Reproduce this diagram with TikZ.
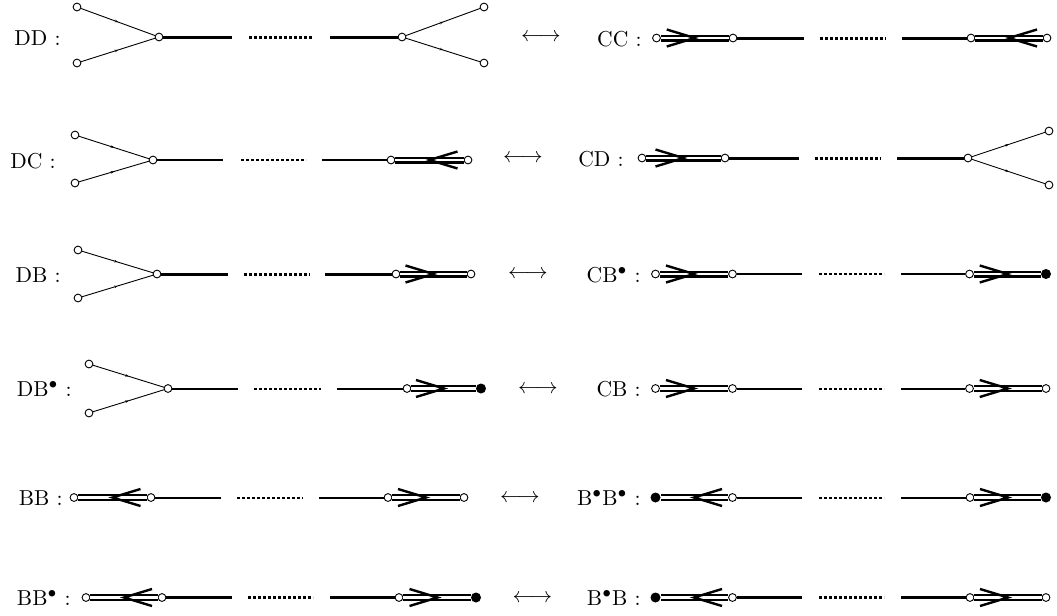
\documentclass[tikz,border=0pt]{standalone}
\usepackage{fix-cm}
\usetikzlibrary{calc,decorations.markings,arrows.meta}
\tikzset{
  ov/.style={circle, draw, fill=white, line width=0.45pt, inner sep=0pt, minimum size=3.9pt},
  fv/.style={circle, fill=black, inner sep=0pt, minimum size=5pt},
  thk/.style={line width=1.5pt},
  thn/.style={line width=1pt},
  dots/.style={dash pattern=on 1.3pt off 1.2pt},
  dbl/.style={double, double distance=1.2pt, line width=1.15pt},
  chv/.style={line width=1.2pt, miter limit=10},
  fork/.style={line width=0.45pt, postaction={decorate},
    decoration={markings, mark=at position 0.5 with {\arrow{Stealth[length=1.6pt,width=1.3pt]}}}},
  lbl/.style={anchor=base east, inner sep=0pt, font=\fontsize{10.8}{13}\selectfont},
  arr/.style={inner sep=0pt, font=\fontsize{10.8}{13}\selectfont}
}
\newcommand{\mychev}[3]{\draw[chv] ($(#1)!0.5!(#2)$) ++({-28*(#3)},8.5) -- ($(#1)!0.5!(#2)$) -- ++({-28*(#3)},-8.5);}
\begin{document}
\begin{tikzpicture}[x=0.5pt,y=-0.5pt]
\useasboundingbox (0,0) rectangle (1057,616);
% ================= Row 1 =================
\node[lbl] (L1t) at (61,45.5) {DD :};
\node[ov] (L1a) at (77,7) {};
\node[ov] (L1b) at (77,63) {};
\node[ov] (L1c) at (159,37) {};
\coordinate (L1e) at (232,37);
\coordinate (L1f) at (249,37);
\coordinate (L1g) at (313,37);
\coordinate (L1h) at (330,37);
\node[ov] (L1d) at (402,37) {};
\node[ov] (L1i) at (484,7) {};
\node[ov] (L1j) at (484,63) {};
\draw[fork] (L1a) -- (L1c);
\draw[fork] (L1b) -- (L1c);
\draw[fork] (L1d) -- (L1i);
\draw[fork] (L1d) -- (L1j);
\draw[thk] (L1c) -- (L1e);
\draw[thk,dots] (L1f) -- (L1g);
\draw[thk] (L1h) -- (L1d);
\node[arr] (A1) at (541,38) {$\longleftrightarrow$};
\node[lbl] (R1t) at (642,46) {CC :};
\node[ov] (R1a) at (656.5,38) {};
\node[ov] (R1b) at (733,38) {};
\coordinate (R1e) at (804,38);
\coordinate (R1f) at (820,38);
\coordinate (R1g) at (886,38);
\coordinate (R1h) at (902,38);
\node[ov] (R1c) at (971,38) {};
\node[ov] (R1d) at (1047,38) {};
\draw[dbl] (R1a) -- (R1b);
\draw[thk] (R1b) -- (R1e);
\draw[thk,dots] (R1f) -- (R1g);
\draw[thk] (R1h) -- (R1c);
\draw[dbl] (R1c) -- (R1d);
\mychev{R1a}{R1b}{1}
\mychev{R1c}{R1d}{-1}
% ================= Row 2 =================
\node[lbl] (L2t) at (56,168) {DC :};
\node[ov] (L2a) at (75,135) {};
\node[ov] (L2b) at (75,183) {};
\node[ov] (L2c) at (153,160) {};
\coordinate (L2e) at (223,160);
\coordinate (L2f) at (241,160);
\coordinate (L2g) at (306,160);
\coordinate (L2h) at (322,160);
\node[ov] (L2d) at (391,160) {};
\node[ov] (L2k) at (468,160) {};
\draw[fork] (L2a) -- (L2c);
\draw[fork] (L2b) -- (L2c);
\draw[thn] (L2c) -- (L2e);
\draw[thn,dots] (L2f) -- (L2g);
\draw[thn] (L2h) -- (L2d);
\draw[dbl] (L2d) -- (L2k);
\mychev{L2d}{L2k}{-1}
\node[arr] (A2) at (523,159) {$\longleftrightarrow$};
\node[lbl] (R2t) at (624,166) {CD :};
\node[ov] (R2a) at (642,158) {};
\node[ov] (R2b) at (725,158) {};
\coordinate (R2e) at (799,158);
\coordinate (R2f) at (815,158);
\coordinate (R2g) at (881,158);
\coordinate (R2h) at (897,158);
\node[ov] (R2c) at (968,158) {};
\node[ov] (R2i) at (1049,131) {};
\node[ov] (R2j) at (1049,185) {};
\draw[dbl] (R2a) -- (R2b);
\draw[thk] (R2b) -- (R2e);
\draw[thk,dots] (R2f) -- (R2g);
\draw[thk] (R2h) -- (R2c);
\draw[fork] (R2c) -- (R2i);
\draw[fork] (R2c) -- (R2j);
\mychev{R2a}{R2b}{1}
% ================= Row 3 =================
\node[lbl] (L3t) at (61,282) {DB :};
\node[ov] (L3a) at (78,250) {};
\node[ov] (L3b) at (78,298) {};
\node[ov] (L3c) at (157,274) {};
\coordinate (L3e) at (228,274);
\coordinate (L3f) at (244,274);
\coordinate (L3g) at (310,274);
\coordinate (L3h) at (325,274);
\node[ov] (L3d) at (396,274) {};
\node[ov] (L3k) at (471,274) {};
\draw[fork] (L3a) -- (L3c);
\draw[fork] (L3b) -- (L3c);
\draw[thk] (L3c) -- (L3e);
\draw[thk,dots] (L3f) -- (L3g);
\draw[thk] (L3h) -- (L3d);
\draw[dbl] (L3d) -- (L3k);
\mychev{L3d}{L3k}{1}
\node[arr] (A3) at (528,275) {$\longleftrightarrow$};
\node[lbl] (R3t) at (641,282) {CB$^\bullet$ :};
\node[ov] (R3a) at (655.5,274) {};
\node[ov] (R3b) at (732.5,274) {};
\coordinate (R3e) at (802,274);
\coordinate (R3f) at (819,274);
\coordinate (R3g) at (884,274);
\coordinate (R3h) at (901,274);
\node[ov] (R3c) at (969.5,274) {};
\node[fv] (R3d) at (1046,274) {};
\draw[dbl] (R3a) -- (R3b);
\draw[thn] (R3b) -- (R3e);
\draw[thn,dots] (R3f) -- (R3g);
\draw[thn] (R3h) -- (R3c);
\draw[dbl] (R3c) -- (R3d);
\mychev{R3a}{R3b}{1}
\mychev{R3c}{R3d}{1}
% ================= Row 4 =================
\node[lbl] (L4t) at (72,396.5) {DB$^\bullet$ :};
\node[ov] (L4a) at (89,364) {};
\node[ov] (L4b) at (89,413) {};
\node[ov] (L4c) at (168,388.5) {};
\coordinate (L4e) at (238,388.5);
\coordinate (L4f) at (254,388.5);
\coordinate (L4g) at (321,388.5);
\coordinate (L4h) at (337,388.5);
\node[ov] (L4d) at (407,388.5) {};
\node[fv] (L4k) at (481,388.5) {};
\draw[fork] (L4a) -- (L4c);
\draw[fork] (L4b) -- (L4c);
\draw[thn] (L4c) -- (L4e);
\draw[thn,dots] (L4f) -- (L4g);
\draw[thn] (L4h) -- (L4d);
\draw[dbl] (L4d) -- (L4k);
\mychev{L4d}{L4k}{1}
\node[arr] (A4) at (538,389.5) {$\longleftrightarrow$};
\node[lbl] (R4t) at (641,396.5) {CB :};
\node[ov] (R4a) at (655.5,388.5) {};
\node[ov] (R4b) at (732.5,388.5) {};
\coordinate (R4e) at (802,388.5);
\coordinate (R4f) at (819,388.5);
\coordinate (R4g) at (884,388.5);
\coordinate (R4h) at (901,388.5);
\node[ov] (R4c) at (969.5,388.5) {};
\node[ov] (R4d) at (1046,388.5) {};
\draw[dbl] (R4a) -- (R4b);
\draw[thn] (R4b) -- (R4e);
\draw[thn,dots] (R4f) -- (R4g);
\draw[thn] (R4h) -- (R4c);
\draw[dbl] (R4c) -- (R4d);
\mychev{R4a}{R4b}{1}
\mychev{R4c}{R4d}{1}
% ================= Row 5 =================
\node[lbl] (L5t) at (63,505.5) {BB :};
\node[ov] (L5a) at (74,497.5) {};
\node[ov] (L5c) at (151,497.5) {};
\coordinate (L5e) at (221,497.5);
\coordinate (L5f) at (237,497.5);
\coordinate (L5g) at (303,497.5);
\coordinate (L5h) at (319,497.5);
\node[ov] (L5d) at (388,497.5) {};
\node[ov] (L5k) at (464,497.5) {};
\draw[dbl] (L5a) -- (L5c);
\draw[thn] (L5c) -- (L5e);
\draw[thn,dots] (L5f) -- (L5g);
\draw[thn] (L5h) -- (L5d);
\draw[dbl] (L5d) -- (L5k);
\mychev{L5a}{L5c}{-1}
\mychev{L5d}{L5k}{1}
\node[arr] (A5) at (520,498.5) {$\longleftrightarrow$};
\node[lbl] (R5t) at (641,505.5) {B$^\bullet$B$^\bullet$ :};
\node[fv] (R5a) at (655.5,497.5) {};
\node[ov] (R5b) at (732.5,497.5) {};
\coordinate (R5e) at (802,497.5);
\coordinate (R5f) at (819,497.5);
\coordinate (R5g) at (884,497.5);
\coordinate (R5h) at (901,497.5);
\node[ov] (R5c) at (970,497.5) {};
\node[fv] (R5d) at (1046,497.5) {};
\draw[dbl] (R5a) -- (R5b);
\draw[thn] (R5b) -- (R5e);
\draw[thn,dots] (R5f) -- (R5g);
\draw[thn] (R5h) -- (R5c);
\draw[dbl] (R5c) -- (R5d);
\mychev{R5a}{R5b}{-1}
\mychev{R5c}{R5d}{1}
% ================= Row 6 =================
\node[lbl] (L6t) at (71,605.5) {BB$^\bullet$ :};
\node[ov] (L6a) at (86,597.5) {};
\node[ov] (L6c) at (162,597.5) {};
\coordinate (L6e) at (232,597.5);
\coordinate (L6f) at (248,597.5);
\coordinate (L6g) at (313,597.5);
\coordinate (L6h) at (330,597.5);
\node[ov] (L6d) at (399,597.5) {};
\node[fv] (L6k) at (476,597.5) {};
\draw[dbl] (L6a) -- (L6c);
\draw[thk] (L6c) -- (L6e);
\draw[thk,dots] (L6f) -- (L6g);
\draw[thk] (L6h) -- (L6d);
\draw[dbl] (L6d) -- (L6k);
\mychev{L6a}{L6c}{-1}
\mychev{L6d}{L6k}{1}
\node[arr] (A6) at (532.5,598.5) {$\longleftrightarrow$};
\node[lbl] (R6t) at (641,605.5) {B$^\bullet$B :};
\node[fv] (R6a) at (655.5,597.5) {};
\node[ov] (R6b) at (732.5,597.5) {};
\coordinate (R6e) at (802,597.5);
\coordinate (R6f) at (819,597.5);
\coordinate (R6g) at (884,597.5);
\coordinate (R6h) at (901,597.5);
\node[ov] (R6c) at (970,597.5) {};
\node[ov] (R6d) at (1046,597.5) {};
\draw[dbl] (R6a) -- (R6b);
\draw[thk] (R6b) -- (R6e);
\draw[thk,dots] (R6f) -- (R6g);
\draw[thk] (R6h) -- (R6c);
\draw[dbl] (R6c) -- (R6d);
\mychev{R6a}{R6b}{-1}
\mychev{R6c}{R6d}{1}
\end{tikzpicture}
\end{document}
